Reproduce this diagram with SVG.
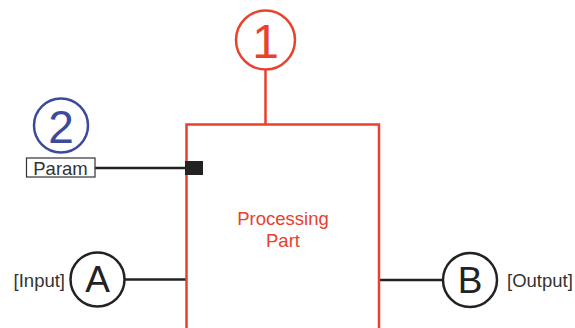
<svg xmlns="http://www.w3.org/2000/svg" width="575" height="328" viewBox="0 0 575 328">
<style>
text{font-family:"Liberation Sans",Arial,sans-serif;}
.red{stroke:#e8412c;fill:none;stroke-width:2.5}
.blk{stroke:#222;fill:none;stroke-width:2.5}
.lbl{font-size:18.5px;fill:#333}
</style>
<rect width="575" height="328" fill="#fff"/>
<g id="connectors">
<line class="red" x1="265.5" y1="70" x2="265.5" y2="124"/>
<line class="blk" x1="95" y1="168" x2="186" y2="168"/>
<line class="blk" x1="125" y1="279.5" x2="186" y2="279.5"/>
<line class="blk" x1="379" y1="280" x2="443" y2="280"/>
</g>
<g id="processing">
<path class="red" d="M186.5 340 V124.5 H379 V340"/>
<text x="283" y="225" font-size="18.5" fill="#e8412c" text-anchor="middle">Processing</text>
<text x="283" y="247" font-size="18.5" fill="#e8412c" text-anchor="middle">Part</text>
</g>
<g id="param-port">
<rect x="185" y="161" width="18" height="14" fill="#222"/>
</g>
<g id="node1">
<circle class="red" cx="265.5" cy="40" r="29.5"/>
<text x="265.5" y="58" font-size="48" fill="#e8412c" text-anchor="middle">1</text>
</g>
<g id="node2">
<circle cx="61" cy="125.5" r="27" fill="none" stroke="#3b4a9e" stroke-width="2.5"/>
<text x="61" y="143" font-size="46" fill="#3b4a9e" text-anchor="middle">2</text>
</g>
<g id="param">
<rect x="26.5" y="158" width="68.5" height="19" fill="#fff" stroke="#333" stroke-width="1.2"/>
<text x="60.5" y="174.5" class="lbl" text-anchor="middle">Param</text>
</g>
<g id="nodeA">
<circle class="blk" cx="97.5" cy="279.5" r="27"/>
<text x="97.5" y="292" font-size="37" fill="#222" text-anchor="middle">A</text>
<text x="65" y="286.5" class="lbl" text-anchor="end">[Input]</text>
</g>
<g id="nodeB">
<circle class="blk" cx="470" cy="280" r="27"/>
<text x="470" y="292.5" font-size="37" fill="#222" text-anchor="middle">B</text>
<text x="507" y="286.5" class="lbl">[Output]</text>
</g>
</svg>
